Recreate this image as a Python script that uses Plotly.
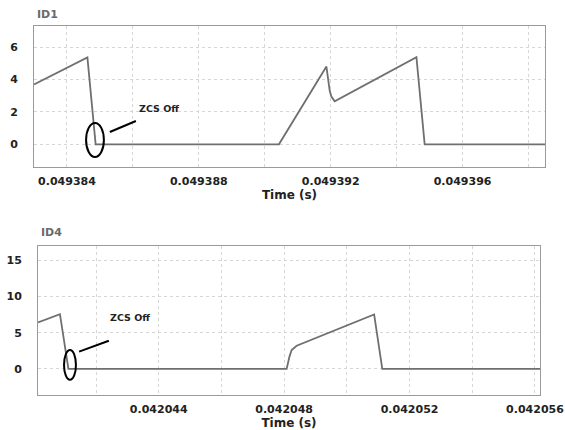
import plotly.graph_objects as go

# ---- waveform data: diode currents vs time ----
t_id1 = [0.0493830, 0.04938462, 0.04938487, 0.04939043, 0.04939187, 0.04939192,
         0.04939197, 0.04939202, 0.04939208, 0.04939212, 0.04939460, 0.04939485,
         0.0493985]
i_id1 = [3.69, 5.36, 0.0, 0.0, 4.80, 4.0, 3.3, 2.95, 2.72, 2.65, 5.38, 0.0, 0.0]

t_id4 = [0.04204015, 0.04204085, 0.04204112, 0.04204808, 0.04204817, 0.04204824,
         0.04204840, 0.04205087, 0.04205113, 0.04205616]
i_id4 = [6.42, 7.56, 0.0, 0.0, 1.7, 2.6, 3.2, 7.52, 0.0, 0.0]

# axis settings
x1_range = [0.0493830, 0.0493985]
y1_range = [-1.4, 7.3]
x2_range = [0.04204015, 0.04205616]
y2_range = [-3.6, 17.0]
x1_tick0 = 0.049384
x2_tick0 = 0.042044
y1_ticks = [0, 2, 4, 6]
y2_ticks = [0, 5, 10, 15]

LINE = "#6f6f6f"
GRID = "#d6d6d6"
FRAME = "#9a9a9a"
FONT = "DejaVu Sans"

fig = go.Figure()
fig.add_trace(go.Scatter(x=t_id1, y=i_id1, mode="lines", xaxis="x", yaxis="y",
                         line=dict(color=LINE, width=1.8), showlegend=False))
fig.add_trace(go.Scatter(x=t_id4, y=i_id4, mode="lines", xaxis="x2", yaxis="y2",
                         line=dict(color=LINE, width=1.8), showlegend=False))

W, H = 565, 430


def xaxis(domain, rng, tick0, anchor):
    return dict(domain=domain, range=rng, anchor=anchor, automargin=False,
                tick0=tick0, dtick=4e-6, tickformat=".6f",
                showgrid=True, gridcolor=GRID, griddash="dot", gridwidth=1,
                minor=dict(tick0=tick0, dtick=2e-6, showgrid=True,
                           gridcolor=GRID, griddash="dot", gridwidth=1),
                showline=True, mirror=True, linecolor=FRAME, linewidth=1,
                zeroline=False, ticks="", ticklabelstandoff=4,
                tickfont=dict(family=FONT, size=11, color="#222222", weight="bold"),
                title=dict(text="Time (s)", standoff=2,
                           font=dict(family=FONT, size=12, color="#222222", weight="bold")))


def yaxis(domain, rng, ticks, anchor):
    return dict(domain=domain, range=rng, anchor=anchor, automargin=False,
                tickmode="array", tickvals=ticks,
                showgrid=True, gridcolor=GRID, griddash="dot", gridwidth=1,
                showline=True, mirror=True, linecolor=FRAME, linewidth=1,
                zeroline=False, ticks="", ticklabelstandoff=13,
                tickfont=dict(family=FONT, size=11, color="#222222", weight="bold"))


fig.update_layout(
    width=W, height=H,
    margin=dict(l=0, r=0, t=0, b=0),
    paper_bgcolor="white", plot_bgcolor="white",
    xaxis=xaxis([34 / W, 545 / W], x1_range, x1_tick0, "y"),
    yaxis=yaxis([1 - 167 / H, 1 - 26 / H], y1_range, y1_ticks, "x"),
    xaxis2=xaxis([38 / W, 540 / W], x2_range, x2_tick0, "y2"),
    yaxis2=yaxis([1 - 395 / H, 1 - 245.7 / H], y2_range, y2_ticks, "x2"),
)

# panel titles
for txt, px, py in [("ID1", 35, 14), ("ID4", 39, 232)]:
    fig.add_annotation(text=txt, xref="paper", yref="paper", x=px / W, y=1 - py / H,
                       xanchor="left", yanchor="middle", showarrow=False,
                       font=dict(family=FONT, size=11, color="#6a6a6a", weight="bold"))

# ZCS markers: ellipse around the turn-off instant, pointer line and label
zcs = [
    dict(xr="x", yr="y", ell=(0.04938458, 0.04938512, -0.78, 1.32),
         seg=(0.0493853, 0.76, 0.04938609, 1.44), lab=(0.04938679, 2.19)),
    dict(xr="x2", yr="y2", ell=(0.04204098, 0.04204136, -1.51, 2.61),
         seg=(0.04204146, 2.38, 0.04204241, 3.89), lab=(0.04204308, 7.15)),
]
for z in zcs:
    x0, x1, y0, y1 = z["ell"]
    fig.add_shape(type="circle", xref=z["xr"], yref=z["yr"], x0=x0, x1=x1, y0=y0, y1=y1,
                  line=dict(color="black", width=2))
    a, b, c, d = z["seg"]
    fig.add_shape(type="line", xref=z["xr"], yref=z["yr"], x0=a, y0=b, x1=c, y1=d,
                  line=dict(color="black", width=2))
    fig.add_annotation(text="ZCS Off", xref=z["xr"], yref=z["yr"], x=z["lab"][0], y=z["lab"][1],
                       showarrow=False,
                       font=dict(family=FONT, size=9.5, color="#222222", weight="bold"))

fig.write_html("out.html")
